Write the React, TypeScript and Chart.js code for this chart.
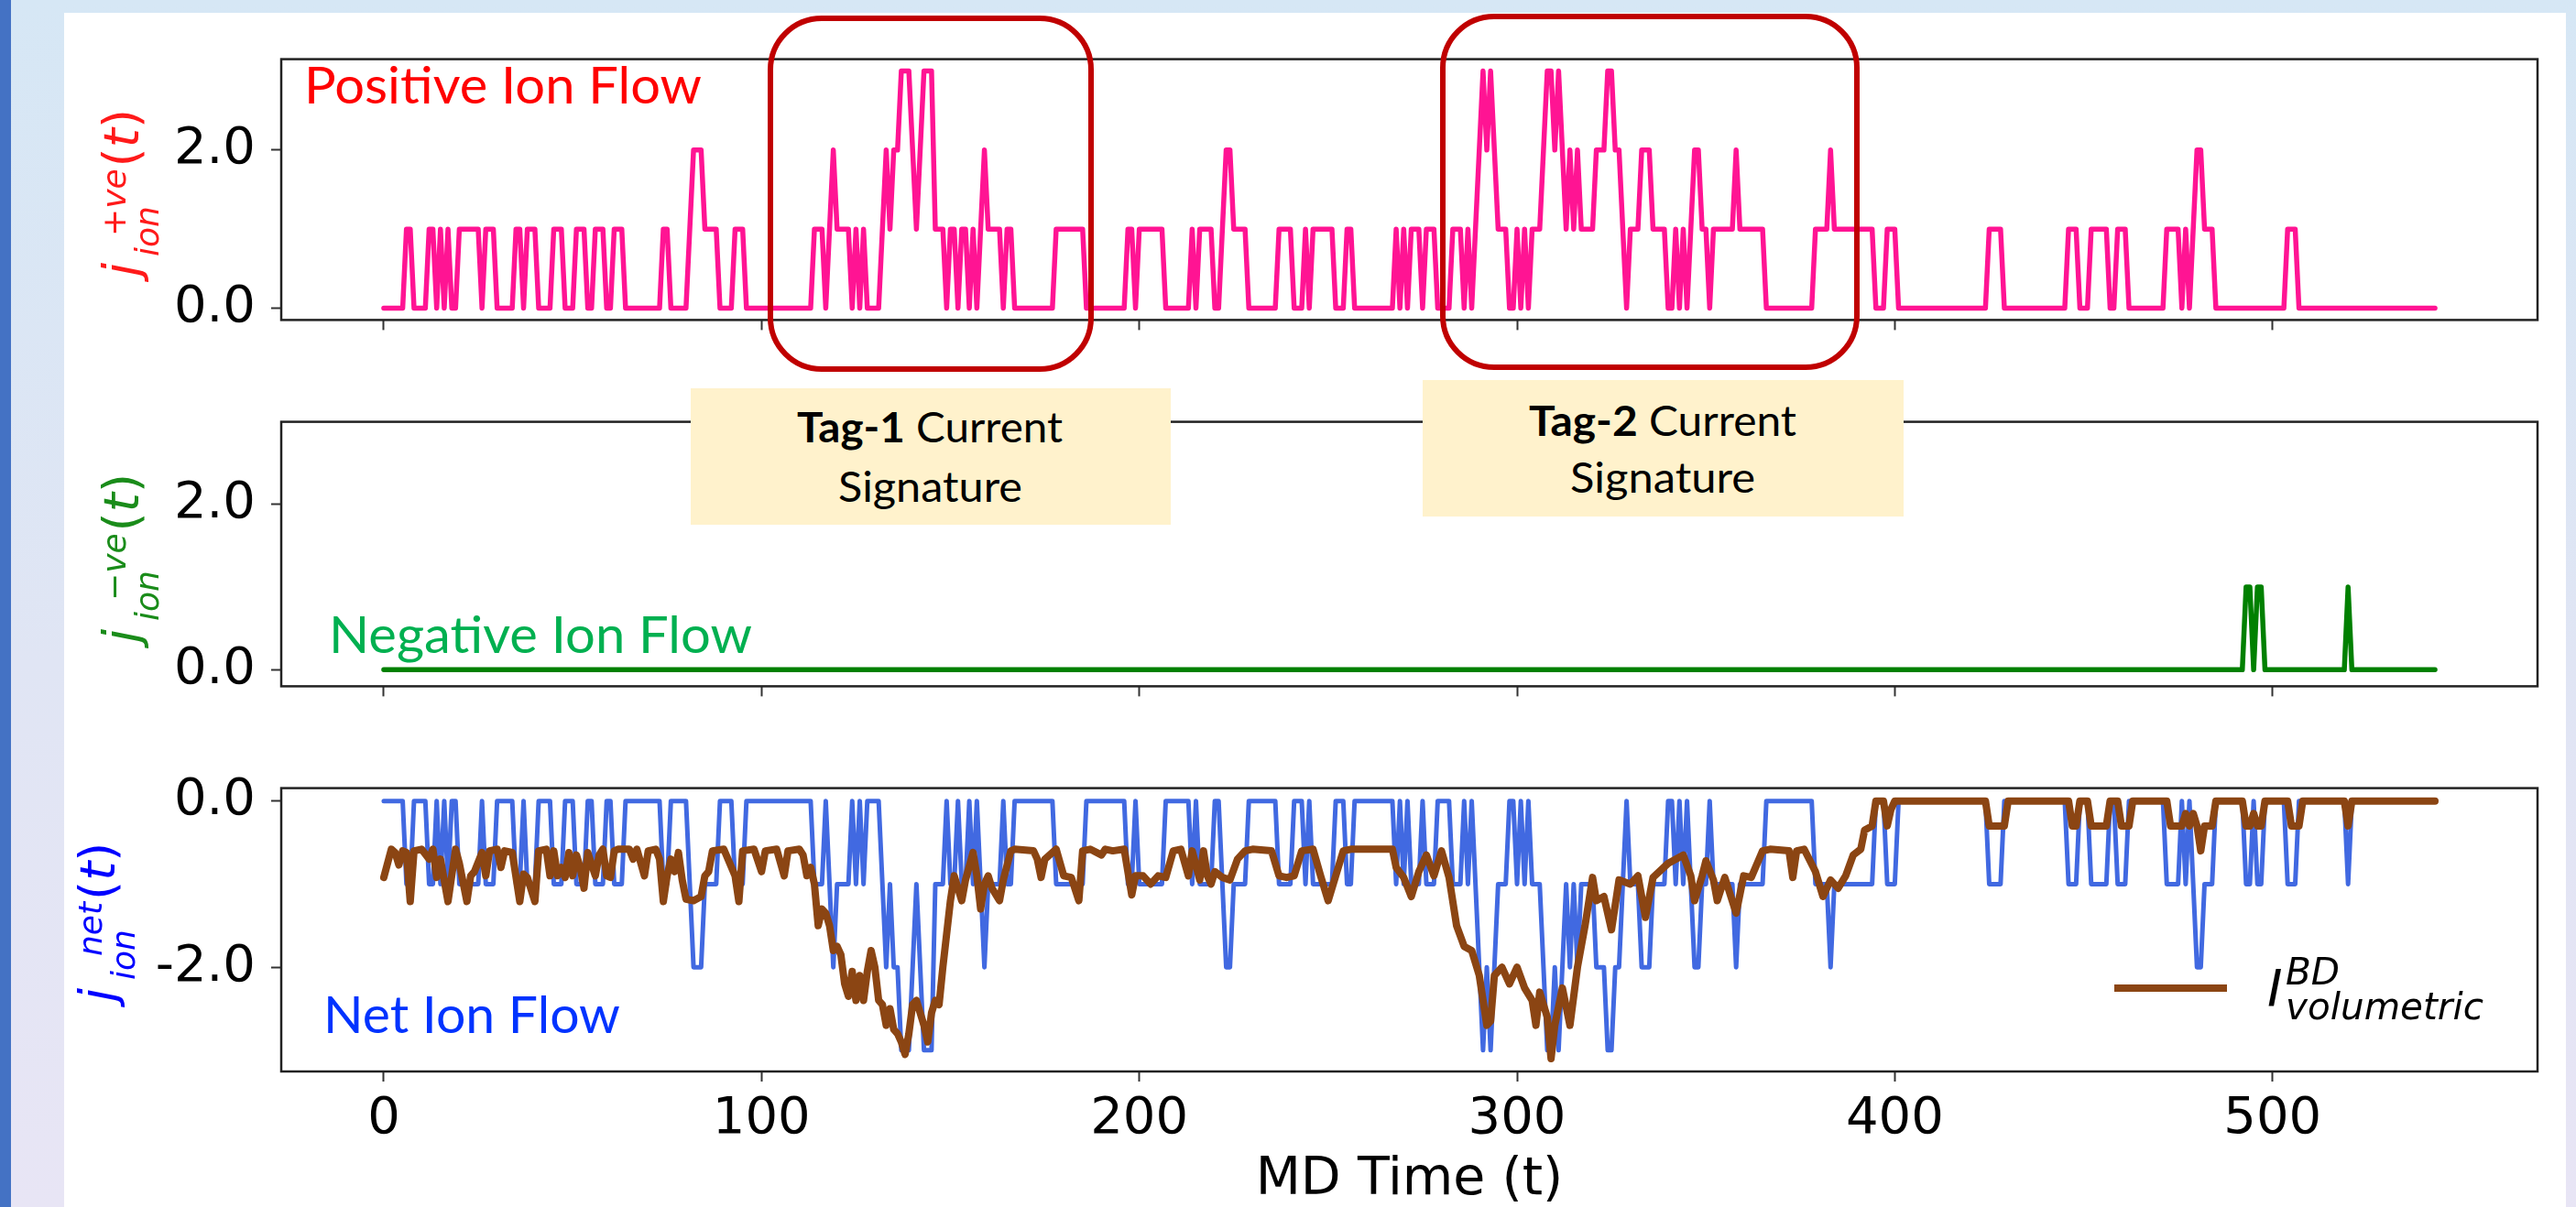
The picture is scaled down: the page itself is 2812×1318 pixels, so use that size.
import React, { useEffect, useRef } from "react";
import { Chart, registerables } from "chart.js";

Chart.register(...registerables);
Chart.defaults.font.family = '"DejaVu Sans", sans-serif';

// ---------------- data ----------------
const T_LAST = 543;
const xTickValues = [0, 100, 200, 300, 400, 500];
const posTickValues = [0, 2];
const negTickValues = [0, 2];
const netTickValues = [-2, 0];

const X_LIMITS = [-27.15, 570.15];
const POS_LIMITS = [-0.15, 3.15];
const NEG_LIMITS = [-0.2, 3.0];
const NET_LIMITS = [-3.255, 0.155];

// positive ion flow: [start time, value] runs
const posRuns: number[][] = [
  [0, 0], [6, 1], [8, 0], [12, 1], [14, 0], [15, 1], [16, 0], [17, 1], [18, 0], [20, 1], [26, 0], [27, 1], [30, 0],
  [35, 1], [37, 0], [38, 1], [41, 0], [45, 1], [48, 0], [51, 1], [54, 0], [56, 1], [59, 0], [61, 1], [64, 0],
  [74, 1], [76, 0], [81, 1], [82, 2], [85, 1], [89, 0], [93, 1], [96, 0],
  [114, 1], [117, 0], [118, 1], [119, 2], [120, 1], [124, 0], [125, 1], [126, 0], [127, 1], [128, 0],
  [132, 1], [133, 2], [134, 1], [135, 2], [137, 3], [140, 2], [141, 1], [142, 2], [143, 3], [146, 1],
  [149, 0], [150, 1], [152, 0], [153, 1], [155, 0], [156, 1], [157, 0], [158, 1], [159, 2], [160, 1],
  [164, 0], [165, 1], [167, 0], [178, 1], [186, 0], [197, 1], [199, 0], [200, 1], [207, 0],
  [214, 1], [215, 0], [216, 1], [220, 0], [222, 1], [223, 2], [225, 1], [229, 0],
  [237, 1], [241, 0], [244, 1], [245, 0], [246, 1], [252, 0], [255, 1], [257, 0],
  [268, 1], [269, 0], [270, 1], [271, 0], [272, 1], [275, 0], [276, 1], [279, 0],
  [283, 1], [286, 0], [287, 1], [288, 0], [289, 1], [290, 2], [291, 3], [292, 2], [293, 3], [294, 2], [295, 1],
  [298, 0], [300, 1], [301, 0], [302, 1], [303, 0],
  [304, 1], [307, 2], [308, 3], [310, 2], [311, 3], [312, 2], [313, 1], [314, 2], [315, 1], [316, 2], [317, 1],
  [321, 2], [324, 3], [326, 2], [328, 1], [329, 0], [330, 1], [333, 2], [336, 1], [340, 0],
  [342, 1], [343, 0], [344, 1], [345, 0], [346, 1], [347, 2], [349, 1], [351, 0], [352, 1], [358, 2], [359, 1], [366, 0],
  [379, 1], [383, 2], [384, 1], [395, 0], [398, 1], [401, 0],
  [425, 1], [429, 0], [446, 1], [449, 0], [452, 1], [457, 0], [459, 1], [462, 0],
  [472, 1], [476, 0], [477, 1], [478, 0], [479, 1], [480, 2], [482, 1], [485, 0], [504, 1], [507, 0],
];

// negative ion flow: [start time, value] runs
const negRuns: number[][] = [
  [0, 0], [493, 1], [495, 0], [496, 1], [498, 0], [520, 1], [521, 0],
];

// volumetric breakdown current: [time, value]
const volPoints: number[][] = [
  [0, -0.92], [2, -0.58], [3, -0.62], [4, -0.77], [5, -0.6], [6, -0.62], [7, -1.21], [8, -0.6], [10, -0.58],
  [12, -0.7], [13, -0.58], [14, -0.92], [15, -0.7], [17, -1.21], [19, -0.58], [20, -0.75], [22, -1.21],
  [23, -0.9], [24, -0.85], [26, -0.62], [27, -0.9], [28, -0.6], [30, -0.58], [31, -0.8], [32, -0.6],
  [34, -0.62], [36, -1.21], [37, -0.88], [38, -0.92], [40, -1.21], [41, -0.6], [43, -0.58], [44, -0.9],
  [45, -0.6], [46, -0.9], [47, -0.8], [48, -0.92], [49, -0.62], [50, -0.9], [51, -0.65], [52, -0.8],
  [53, -1.05], [54, -0.62], [56, -0.9], [57, -0.65], [58, -0.58], [59, -0.9], [60, -0.92], [61, -0.6],
  [62, -0.58], [65, -0.58], [66, -0.7], [67, -0.58], [69, -0.9], [70, -0.6], [72, -0.58], [73, -0.7],
  [74, -1.21], [75, -0.9], [76, -0.7], [77, -0.85], [78, -0.62], [79, -0.95], [80, -1.18], [82, -1.2],
  [84, -1.15], [85, -0.9], [86, -0.85], [87, -0.6], [90, -0.58], [93, -0.9], [94, -1.21], [95, -0.6],
  [98, -0.58], [100, -0.85], [101, -0.6], [104, -0.58], [106, -0.9], [107, -0.6], [110, -0.58],
  [111, -0.65], [112, -0.9], [113, -0.8], [114, -1.0], [115, -1.5], [116, -1.3], [117, -1.35],
  [118, -1.5], [119, -1.8], [120, -1.75], [121, -1.85], [122, -2.2], [123, -2.35], [124, -2.05],
  [125, -2.4], [126, -2.1], [127, -2.4], [128, -2.05], [129, -1.8], [130, -2.0], [131, -2.4],
  [132, -2.45], [133, -2.7], [134, -2.5], [135, -2.75], [136, -2.8], [137, -2.9], [138, -3.05],
  [139, -2.8], [140, -2.45], [141, -2.4], [142, -2.55], [143, -2.7], [144, -2.9], [145, -2.55],
  [146, -2.4], [147, -2.45], [148, -2.0], [149, -1.6], [150, -1.2], [151, -0.9], [152, -1.05],
  [153, -1.2], [154, -0.95], [156, -0.62], [157, -0.9], [158, -1.3], [159, -1.0], [160, -0.9],
  [161, -1.05], [163, -1.2], [164, -0.95], [166, -0.6], [167, -0.58], [172, -0.6], [173, -0.7],
  [174, -0.92], [175, -0.7], [178, -0.58], [180, -0.9], [182, -0.92], [184, -1.2], [185, -0.6],
  [187, -0.58], [190, -0.65], [191, -0.58], [193, -0.6], [196, -0.58], [198, -1.13], [199, -0.9],
  [201, -0.9], [203, -1.0], [205, -0.9], [207, -0.92], [209, -0.6], [211, -0.58], [213, -0.9],
  [214, -0.6], [216, -0.95], [217, -0.6], [218, -0.9], [219, -1.0], [220, -0.85], [222, -0.92],
  [224, -0.95], [226, -0.7], [228, -0.6], [230, -0.58], [235, -0.6], [237, -0.9], [239, -0.92],
  [241, -0.9], [243, -0.6], [246, -0.58], [248, -0.9], [250, -1.2], [252, -0.9], [254, -0.6],
  [256, -0.58], [267, -0.58], [268, -0.8], [270, -0.92], [272, -1.15], [274, -0.85], [276, -0.65],
  [278, -0.9], [280, -0.6], [282, -0.92], [284, -1.5], [286, -1.75], [288, -1.8], [290, -2.1],
  [292, -2.7], [293, -2.65], [294, -2.1], [296, -2.0], [298, -2.2], [300, -2.0], [302, -2.25],
  [304, -2.4], [305, -2.7], [306, -2.3], [308, -2.6], [309, -3.1], [310, -2.7], [312, -2.25],
  [314, -2.7], [316, -2.0], [318, -1.5], [320, -0.92], [321, -1.2], [323, -1.15], [325, -1.55],
  [327, -0.95], [330, -1.0], [332, -0.9], [334, -1.4], [336, -0.92], [340, -0.75], [344, -0.65],
  [346, -0.9], [347, -1.2], [349, -0.9], [350, -0.72], [352, -0.95], [353, -1.2], [355, -0.92],
  [358, -1.35], [360, -0.9], [362, -0.92], [365, -0.6], [367, -0.58], [372, -0.6], [373, -0.92],
  [374, -0.6], [376, -0.58], [379, -0.85], [381, -1.15], [383, -0.95], [385, -1.05], [387, -0.9],
  [389, -0.65], [391, -0.58], [392, -0.35], [394, -0.3], [395, 0], [397, 0], [398, -0.3], [399, -0.1],
  [400, 0], [424, 0], [425, -0.3], [429, -0.3], [430, 0], [446, 0], [447, -0.3], [448, -0.3], [449, 0],
  [451, 0], [452, -0.3], [456, -0.3], [457, 0], [459, 0], [460, -0.3], [462, -0.3], [463, 0],
  [472, 0], [473, -0.3], [476, -0.3], [477, -0.15], [478, -0.3], [479, -0.15], [480, -0.3], [481, -0.6],
  [482, -0.3], [484, -0.3], [485, 0], [492, 0], [493, -0.3], [494, -0.3], [495, -0.15], [496, -0.3],
  [497, -0.3], [498, 0], [504, 0], [505, -0.3], [507, -0.3], [508, 0], [519, 0], [520, -0.3], [521, 0],
  [543, 0],
];

function expandRuns(runs: number[][]): number[] {
  const out: number[] = [];
  for (let i = 0; i < runs.length; i++) {
    const start = runs[i][0];
    const value = runs[i][1];
    const end = i + 1 < runs.length ? runs[i + 1][0] : T_LAST + 1;
    for (let t = start; t < end; t++) out[t] = value;
  }
  return out;
}

const posSeries = expandRuns(posRuns);
const negSeries = expandRuns(negRuns);
const netSeries = posSeries.map((p, t) => -(p + negSeries[t]));

// ---------------- layout ----------------
const CANVAS_LEFT = 70;
const CANVAS_W = 2731;
const Y_AXIS_W = 237;
const PAD_RIGHT = 31;

const framePlugin = {
  id: "frame",
  afterDatasetsDraw(chart: any) {
    const { ctx, chartArea } = chart;
    ctx.save();
    ctx.strokeStyle = "#222";
    ctx.lineWidth = 2.5;
    ctx.strokeRect(chartArea.left, chartArea.top, chartArea.right - chartArea.left, chartArea.bottom - chartArea.top);
    ctx.restore();
  },
};

function buildConfig(datasets: any[], yLimits: number[], yTicks: number[], padTop: number, xHeight: number, xLabels: boolean) {
  const grid = { drawOnChartArea: false, drawTicks: true, tickLength: 11, tickWidth: 2, tickColor: "#333" };
  return {
    type: "line",
    data: { datasets },
    options: {
      responsive: false,
      animation: false,
      devicePixelRatio: 1,
      events: [],
      layout: { padding: { top: padTop, right: PAD_RIGHT, bottom: 0, left: 0 } },
      plugins: { legend: { display: false }, tooltip: { enabled: false } },
      elements: { point: { radius: 0 }, line: { tension: 0, borderJoinStyle: "round", borderCapStyle: "round" } },
      scales: {
        x: {
          type: "linear",
          min: X_LIMITS[0],
          max: X_LIMITS[1],
          afterBuildTicks: (s: any) => { s.ticks = xTickValues.map((v) => ({ value: v })); },
          afterFit: (s: any) => { s.height = xHeight; },
          grid,
          border: { display: false },
          ticks: {
            display: xLabels, color: "#000", font: { size: 56, family: "DejaVu Sans" }, padding: 8,
            maxRotation: 0, autoSkip: false, callback: (v: any) => String(v),
          },
          title: {
            display: xLabels, text: "MD Time (t)", color: "#000",
            font: { size: 57, family: "DejaVu Sans", lineHeight: 1 }, padding: { top: 0, bottom: 0 },
          },
        },
        y: {
          type: "linear",
          min: yLimits[0],
          max: yLimits[1],
          afterBuildTicks: (s: any) => { s.ticks = yTicks.map((v) => ({ value: v })); },
          afterFit: (s: any) => { s.width = Y_AXIS_W; },
          grid,
          border: { display: false },
          ticks: { color: "#000", font: { size: 56, family: "DejaVu Sans" }, padding: 17, callback: (v: any) => Number(v).toFixed(1) },
        },
      },
    },
    plugins: [framePlugin],
  };
}

function ChartPanel({ top, height, config }: { top: number; height: number; config: any }) {
  const ref = useRef<HTMLCanvasElement | null>(null);
  useEffect(() => {
    const chart = new Chart(ref.current as HTMLCanvasElement, config);
    return () => chart.destroy();
  }, []);
  return (
    <canvas ref={ref} width={CANVAS_W} height={height}
      style={{ position: "absolute", left: CANVAS_LEFT, top, width: CANVAS_W, height }} />
  );
}

// ---------------- text helpers ----------------
let mctx: CanvasRenderingContext2D | null = null;
function measure(text: string, font: string) {
  if (!mctx) mctx = document.createElement("canvas").getContext("2d");
  const c = mctx as CanvasRenderingContext2D;
  c.font = font;
  const m = c.measureText(text);
  return { w: m.width, a: m.fontBoundingBoxAscent || 0, d: m.fontBoundingBoxDescent || 0 };
}

type Part = { t: string; bold?: boolean; italic?: boolean };
function Txt({ parts, x, y, size, family, color, anchor = "start", width }:
  { parts: Part[]; x: number; y: number; size: number; family: string; color: string; anchor?: string; width?: number }) {
  let total = 0, asc = 0, desc = 0;
  for (const p of parts) {
    const m = measure(p.t, `${p.italic ? "italic " : ""}${p.bold ? "bold " : ""}${size}px "${family}"`);
    total += m.w; asc = Math.max(asc, m.a); desc = Math.max(desc, m.d);
  }
  const k = width ? width / total : 1;
  const left = anchor === "middle" ? x - (total * k) / 2 : x;
  return (
    <div style={{
      position: "absolute", left, top: y - asc, height: asc + desc, lineHeight: `${asc + desc}px`,
      fontSize: size, fontFamily: `"${family}"`, color, whiteSpace: "pre",
      transform: `scaleX(${k})`, transformOrigin: "left top",
    }}>
      {parts.map((p, i) => (
        <span key={i} style={{ fontWeight: p.bold ? 700 : 400, fontStyle: p.italic ? "italic" : "normal" }}>{p.t}</span>
      ))}
    </div>
  );
}

function MathLabel({ left, startY, sup, color, supX, subX }:
  { left: number; startY: number; sup: string; color: string; supX: number; subX: number }) {
  const fam = "DejaVu Sans";
  const main = 54, scr = 36;
  const supW = measure(sup, `italic ${scr}px "${fam}"`).w;
  const parenX = supX + supW + 2;
  return (
    <div style={{ position: "absolute", left, top: startY, width: 0, height: 0, transform: "rotate(-90deg)", transformOrigin: "left top" }}>
      <Txt parts={[{ t: "j", italic: true }]} x={0} y={41} size={main} family={fam} color={color} />
      <Txt parts={[{ t: "ion", italic: true }]} x={subX} y={63} size={scr} family={fam} color={color} />
      <Txt parts={[{ t: sup, italic: true }]} x={supX} y={27} size={scr} family={fam} color={color} />
      <Txt parts={[{ t: "(" }, { t: "t", italic: true }, { t: ")" }]} x={parenX} y={41} size={main} family={fam} color={color} />
    </div>
  );
}

const abs = (l: number, t: number, w: number, h: number) => ({ position: "absolute" as const, left: l, top: t, width: w, height: h });

export default function App() {
  const posConfig = buildConfig([
    { data: posSeries.map((y, x) => ({ x, y })), borderColor: "#ff1493", borderWidth: 5.5 },
  ], POS_LIMITS, posTickValues, 28, 28, false);
  const negConfig = buildConfig([
    { data: negSeries.map((y, x) => ({ x, y })), borderColor: "#008000", borderWidth: 5.5 },
  ], NEG_LIMITS, negTickValues, 29, 28, false);
  const netConfig = buildConfig([
    { label: "I_volumetric^BD", data: volPoints.map((p) => ({ x: p[0], y: p[1] })), borderColor: "#8b4513", borderWidth: 8 },
    { label: "j_ion^net", data: netSeries.map((y, x) => ({ x, y })), borderColor: "#4169e1", borderWidth: 5 },
  ], NET_LIMITS, netTickValues, 28, 148, true);

  return (
    <div style={{
      position: "fixed", left: 0, top: 0, width: 2812, height: 1318, overflow: "hidden",
      background: "linear-gradient(180deg, #d6e7f5 0%, #e0e5f4 55%, #e8e5f5 100%)",
    }}>
      <div style={{ ...abs(0, 0, 12, 1318), background: "#4472c4" }} />
      <div style={{ ...abs(70, 14, 2731, 1304), background: "#ffffff" }} />

      <ChartPanel top={14} height={386} config={posConfig} />
      <ChartPanel top={410} height={390} config={negConfig} />
      <ChartPanel top={810} height={508} config={netConfig} />

      <MathLabel left={110} startY={302} sup="+ve" color="#ff1a1a" supX={44} subX={22} />
      <MathLabel left={110} startY={702} sup="−ve" color="#1a8c1a" supX={46} subX={24} />
      <MathLabel left={84} startY={1094} sup="net" color="#0000ff" supX={50} subX={24} />

      <Txt parts={[{ t: "Positive Ion Flow" }]} x={332} y={113} size={56} family="Lato" color="#ff0000" width={434} />
      <Txt parts={[{ t: "Negative Ion Flow" }]} x={359} y={713} size={57} family="Lato" color="#00b050" width={462} />
      <Txt parts={[{ t: "Net Ion Flow" }]} x={353} y={1128} size={56} family="Lato" color="#0033ff" width={324} />

      <div style={{ ...abs(838, 17, 356, 389), border: "6.5px solid #c00000", borderRadius: 59, boxSizing: "border-box" }} />
      <div style={{ ...abs(1572, 15, 458, 389), border: "6.5px solid #c00000", borderRadius: 59, boxSizing: "border-box" }} />

      <div style={{ ...abs(754, 424, 524, 149), background: "#fff2cc" }} />
      <Txt parts={[{ t: "Tag-1", bold: true }, { t: " Current" }]} x={1015} y={483} size={46} family="Lato" color="#000" anchor="middle" width={290} />
      <Txt parts={[{ t: "Signature" }]} x={1015} y={548} size={46} family="Lato" color="#000" anchor="middle" width={201} />
      <div style={{ ...abs(1553, 415, 525, 149), background: "#fff2cc" }} />
      <Txt parts={[{ t: "Tag-2", bold: true }, { t: " Current" }]} x={1815} y={476} size={46} family="Lato" color="#000" anchor="middle" width={292} />
      <Txt parts={[{ t: "Signature" }]} x={1815} y={538} size={46} family="Lato" color="#000" anchor="middle" width={202} />

      <div style={{ ...abs(2308, 1075, 123, 8), background: "#8b4513" }} />
      <Txt parts={[{ t: "I", italic: true }]} x={2475} y={1098} size={56} family="DejaVu Sans" color="#000" />
      <Txt parts={[{ t: "BD", italic: true }]} x={2495} y={1075} size={40} family="DejaVu Sans" color="#000" width={59} />
      <Txt parts={[{ t: "volumetric", italic: true }]} x={2495} y={1113} size={40} family="DejaVu Sans" color="#000" width={216} />
    </div>
  );
}
